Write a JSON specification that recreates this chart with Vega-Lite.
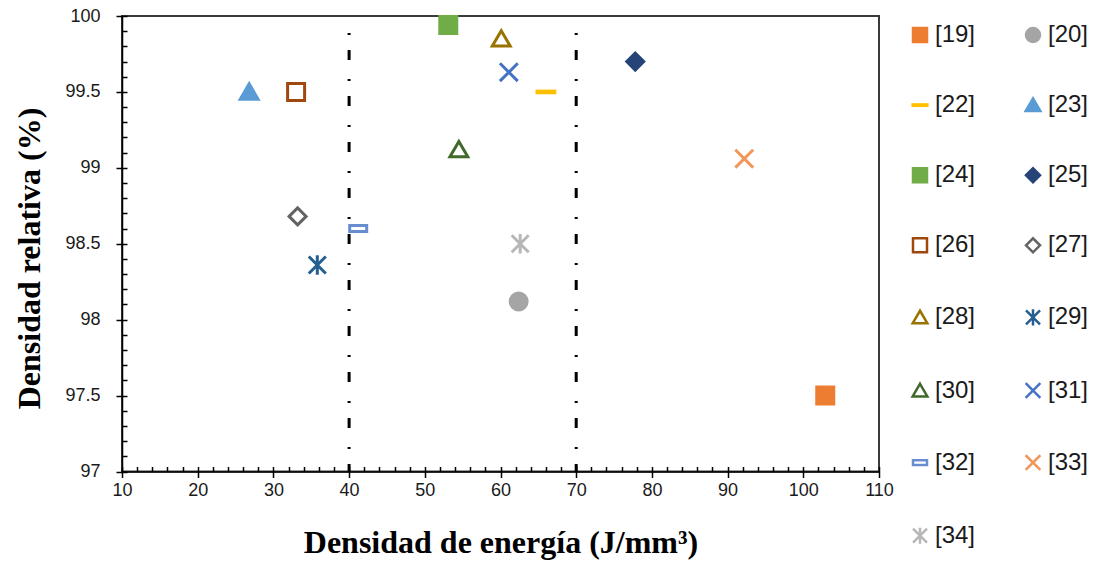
{
  "$schema": "https://vega.github.io/schema/vega-lite/v6.json",
  "autosize": "none",
  "padding": {"left": 122, "top": 16, "right": 215, "bottom": 90.5},
  "width": 757,
  "height": 455.5,
  "background": "white",
  "config": {
    "view": {"stroke": "#3a3a3a", "strokeWidth": 2},
    "axis": {"grid": false, "tickColor": "black", "domainColor": "black", "domainWidth": 1.5, "tickWidth": 1.5},
    "legend": {
      "orient": "none", "legendX": 786, "legendY": 7, "columns": 2, "direction": "horizontal", "padding": 0,
      "rowPadding": 46.1, "columnPadding": 44, "labelOffset": 3,
      "labelFont": "Liberation Sans", "labelFontSize": 24, "labelColor": "#1a1a1a",
      "symbolSize": 196, "symbolStrokeWidth": 2.5, "labelLimit": 0
    }
  },
  "resolve": {"axis": {"x": "independent", "y": "independent"}},
  "layer": [
    {
      "data": {"values": [{"e": 40}, {"e": 70}]},
      "mark": {"type": "rule", "color": "black", "strokeWidth": 3, "strokeDash": [10, 19, 2, 15], "strokeDashOffset": 12, "strokeCap": "butt"},
      "encoding": {
        "x": {"field": "e", "type": "quantitative", "scale": {"domain": [10, 110], "nice": false, "zero": false},
          "axis": {"orient": "bottom", "values": [10,12,14,16,18,20,22,24,26,28,30,32,34,36,38,40,42,44,46,48,50,52,54,56,58,60,62,64,66,68,70,72,74,76,78,80,82,84,86,88,90,92,94,96,98,100,102,104,106,108,110],
            "tickSize": -5, "labels": false, "domain": false, "title": null}}
      }
    },
    {
      "data": {"name": "pts"},
      "mark": {"type": "point", "opacity": 0},
      "encoding": {
        "x": {"field": "x", "type": "quantitative", "scale": {"domain": [10, 110], "nice": false, "zero": false}, "axis": null},
        "y": {"field": "y", "type": "quantitative", "scale": {"domain": [97, 100], "nice": false, "zero": false},
          "axis": {"orient": "left", "values": [97,97.1,97.2,97.3,97.4,97.5,97.6,97.7,97.8,97.9,98,98.1,98.2,98.3,98.4,98.5,98.6,98.7,98.8,98.9,99,99.1,99.2,99.3,99.4,99.5,99.6,99.7,99.8,99.9,100],
            "tickSize": -5, "labels": false, "domain": false, "title": null}}
      }
    },
    {
      "data": {"name": "pts"},
      "mark": {"type": "point", "size": 289, "strokeWidth": 3, "opacity": 1, "fillOpacity": 1},
      "encoding": {
        "x": {"field": "x", "type": "quantitative", "scale": {"domain": [10, 110], "nice": false, "zero": false},
          "axis": {"orient": "bottom", "values": [10,20,30,40,50,60,70,80,90,100,110], "tickSize": 6, "labelFont": "Liberation Sans", "labelFontSize": 18, "labelColor": "#1a1a1a", "labelPadding": 4, "labelFlush": false,
            "title": "Densidad de energía (J/mm³)", "titleFont": "Liberation Serif", "titleFontSize": 32, "titleFontWeight": "bold", "titleColor": "black", "titleY": 81, "titleBaseline": "alphabetic"}},
        "y": {"field": "y", "type": "quantitative", "scale": {"domain": [97, 100], "nice": false, "zero": false},
          "axis": {"orient": "left", "values": [97, 97.5, 98, 98.5, 99, 99.5, 100], "format": ".1~f", "tickSize": 6, "labelFont": "Liberation Sans", "labelFontSize": 18, "labelColor": "#1a1a1a", "labelPadding": 16,
            "title": "Densidad relativa (%)", "titleFont": "Liberation Serif", "titleFontSize": 32, "titleFontWeight": "bold", "titleColor": "black", "titleX": -93, "titleY": 242, "titleAlign": "center", "titleBaseline": "middle", "titleAngle": -90}},
        "stroke": {"field": "ref", "type": "nominal", "legend": {"title": null},
          "scale": {"domain": ["[19]","[20]","[22]","[23]","[24]","[25]","[26]","[27]","[28]","[29]","[30]","[31]","[32]","[33]","[34]"],
            "range": ["#ED7D31","#A5A5A5","#FFC000","#5B9BD5","#70AD47","#264478","#9E480E","#636363","#997300","#255E91","#43682B","#4472C4","#698ED0","#F1975A","#B7B7B7"]}},
        "fill": {"field": "ref", "type": "nominal", "legend": {"title": null},
          "scale": {"domain": ["[19]","[20]","[22]","[23]","[24]","[25]","[26]","[27]","[28]","[29]","[30]","[31]","[32]","[33]","[34]"],
            "range": ["#ED7D31","#A5A5A5","#FFC000","#5B9BD5","#70AD47","#264478","white","white","white","transparent","white","transparent","white","transparent","transparent"]}},
        "shape": {"field": "ref", "type": "nominal", "legend": {"title": null},
          "scale": {"domain": ["[19]","[20]","[22]","[23]","[24]","[25]","[26]","[27]","[28]","[29]","[30]","[31]","[32]","[33]","[34]"],
            "range": ["square","circle","M-1.05,-0.1H1.05V0.1H-1.05Z","M0,-0.95L1.05,0.85L-1.05,0.85Z","square","diamond","square","diamond","M0,-0.95L1.05,0.85L-1.05,0.85Z","M-1,-1L1,1M-1,1L1,-1M0,-1.15L0,1.15","M0,-0.95L1.05,0.85L-1.05,0.85Z","M-1.05,-1.05L1.05,1.05M-1.05,1.05L1.05,-1.05","M-1,-0.35H1V0.35H-1Z","M-1.05,-1.05L1.05,1.05M-1.05,1.05L1.05,-1.05","M-1,-1L1,1M-1,1L1,-1M0,-1.15L0,1.15"]}}
      }
    }
  ],
  "datasets": {
    "pts": [
      {"ref": "[19]", "x": 102.9, "y": 97.5},
      {"ref": "[20]", "x": 62.4, "y": 98.12},
      {"ref": "[22]", "x": 66.0, "y": 99.5},
      {"ref": "[23]", "x": 26.8, "y": 99.5},
      {"ref": "[24]", "x": 53.1, "y": 99.94},
      {"ref": "[25]", "x": 77.8, "y": 99.7},
      {"ref": "[26]", "x": 33.0, "y": 99.5},
      {"ref": "[27]", "x": 33.2, "y": 98.68},
      {"ref": "[28]", "x": 60.1, "y": 99.85},
      {"ref": "[29]", "x": 35.8, "y": 98.36},
      {"ref": "[30]", "x": 54.5, "y": 99.12},
      {"ref": "[31]", "x": 61.1, "y": 99.63},
      {"ref": "[32]", "x": 41.2, "y": 98.6},
      {"ref": "[33]", "x": 92.2, "y": 99.06},
      {"ref": "[34]", "x": 62.6, "y": 98.5}
    ]
  }
}
